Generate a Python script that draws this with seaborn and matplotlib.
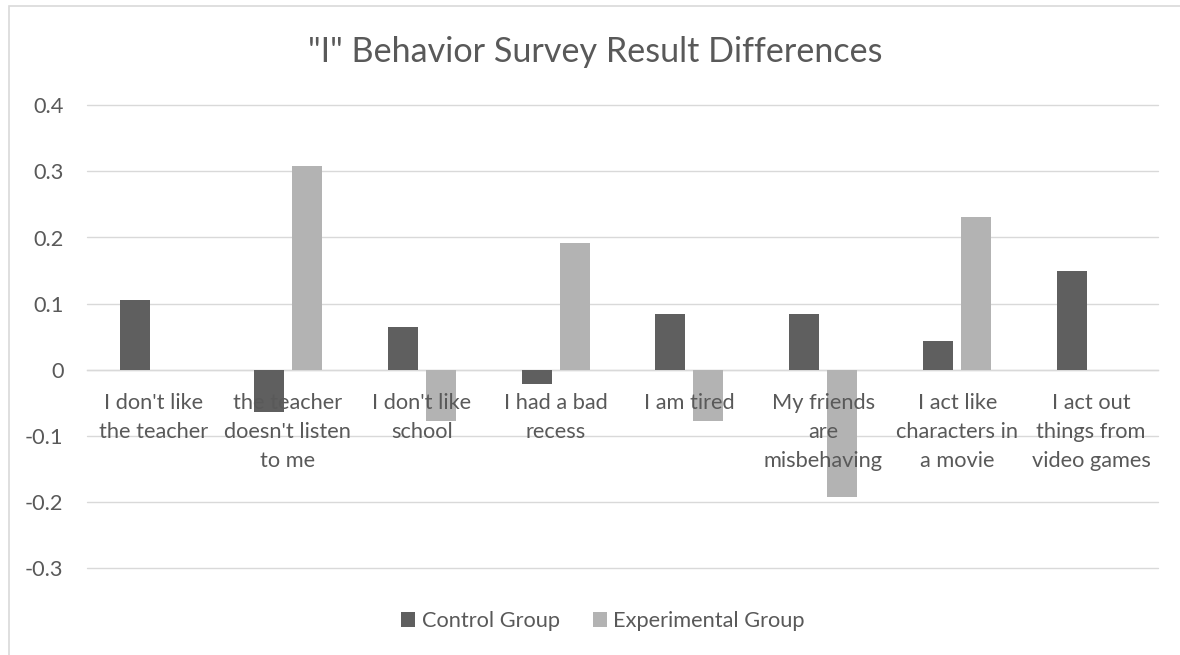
import matplotlib
matplotlib.use("Agg")
import matplotlib.pyplot as plt
from matplotlib.patches import Rectangle
import seaborn as sns
import pandas as pd

categories = [
    "I don't like\nthe teacher",
    "the teacher\ndoesn't listen\nto me",
    "I don't like\nschool",
    "I had a bad\nrecess",
    "I am tired",
    "My friends\nare\nmisbehaving",
    "I act like\ncharacters in\na movie",
    "I act out\nthings from\nvideo games",
]
control_values = [0.106, -0.064, 0.064, -0.021, 0.085, 0.085, 0.043, 0.149]
experimental_values = [0.0, 0.308, -0.077, 0.192, -0.077, -0.192, 0.231, 0.0]
series_names = ["Control Group", "Experimental Group"]
y_ticks = [-0.3, -0.2, -0.1, 0, 0.1, 0.2, 0.3, 0.4]
y_tick_labels = ["-0.3", "-0.2", "-0.1", "0", "0.1", "0.2", "0.3", "0.4"]
title_text = '"I" Behavior Survey Result Differences'

df = pd.DataFrame({
    "category": categories * 2,
    "value": control_values + experimental_values,
    "series": [series_names[0]] * len(categories) + [series_names[1]] * len(categories),
})

sns.set_theme(style="white")
plt.rcParams["font.family"] = ["Lato", "DejaVu Sans"]

TEXT = "#595959"
GRID = "#d9d9d9"
FS = 15.7

fig = plt.figure(figsize=(11.8, 6.55), dpi=100)
ax = fig.add_axes([87 / 1180, 1 - 568 / 655, (1158 - 87) / 1180, (568 - 105.3) / 655])

sns.barplot(data=df, x="category", y="value", hue="series", order=categories,
            hue_order=series_names, palette=["#5f5f5f", "#b3b3b3"],
            width=0.568, gap=0.21, ax=ax, saturation=1, linewidth=0,
            errorbar=None)

ax.set_ylim(-0.3, 0.4)
ax.set_xlim(-0.5, len(categories) - 0.5)
ax.set_yticks(y_ticks)
ax.set_yticklabels(y_tick_labels)
ax.set_xlabel("")
ax.set_ylabel("")
ax.yaxis.grid(True, color=GRID, linewidth=1.0)
for gl in ax.get_ygridlines():
    gl.set_clip_on(False)
ax.set_axisbelow(True)
ax.xaxis.set_zorder(3)
for s in ["left", "right", "top"]:
    ax.spines[s].set_visible(False)
ax.spines["bottom"].set_position(("data", 0))
ax.spines["bottom"].set_color(GRID)
ax.spines["bottom"].set_linewidth(1.0)
ax.spines["bottom"].set_zorder(0.6)
ax.tick_params(axis="x", length=0, pad=17, labelsize=FS, labelcolor=TEXT)
ax.tick_params(axis="y", length=0, pad=17, labelsize=FS, labelcolor=TEXT)
for lbl in ax.get_xticklabels():
    lbl.set_linespacing(1.54)
    lbl.set_ha("center")

handles, labels = ax.get_legend_handles_labels()
if ax.get_legend() is not None:
    ax.get_legend().remove()
fig.legend(handles, labels, loc="center", bbox_to_anchor=(603 / 1180, 1 - 621 / 655),
           ncol=2, frameon=False, fontsize=FS, labelcolor=TEXT,
           handlelength=0.64, handleheight=0.64, handletextpad=0.3,
           columnspacing=1.5, borderaxespad=0, borderpad=0)

fig.text(595 / 1180, 1 - 62 / 655, title_text, ha="center", va="baseline",
         fontsize=24.6, color=TEXT)

fig.add_artist(Rectangle((9 / 1180, -0.2), 2.0, 1.2 - 6 / 655, transform=fig.transFigure,
                         fill=False, edgecolor=GRID, linewidth=1.2))

fig.savefig("out.png", dpi=100)
